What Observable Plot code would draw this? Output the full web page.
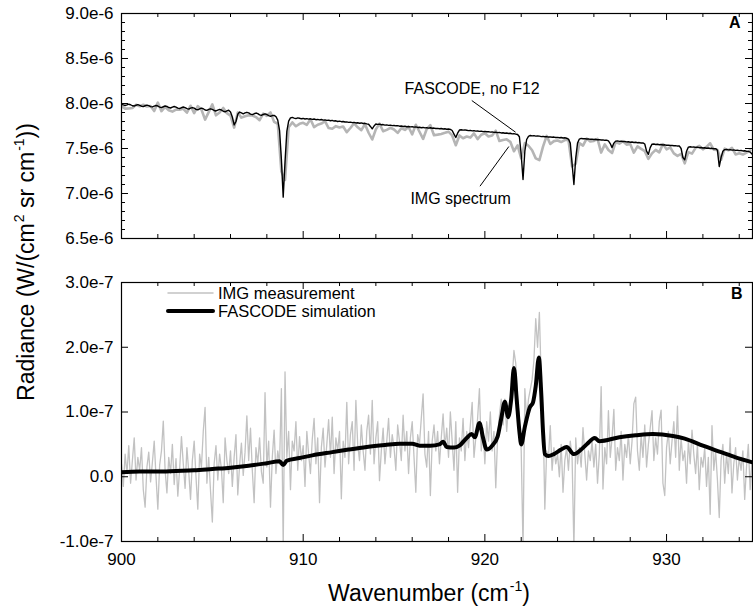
<!DOCTYPE html>
<html><head><meta charset="utf-8">
<script src="https://cdn.jsdelivr.net/npm/d3@7"></script>
<script src="https://cdn.jsdelivr.net/npm/@observablehq/plot@0.6"></script>
<style>
body{margin:0;background:#fff;font-family:"Liberation Sans",Arial,sans-serif;}
#wrap{position:relative;width:753px;height:610px;overflow:hidden;background:#fff;}
#wrap svg{position:absolute;left:0;}
.t{position:absolute;white-space:nowrap;color:#000;line-height:1;}
.title{font-size:23px;}
.sup{font-size:14px;position:relative;top:-10px;margin-left:1px;}
.leg{font-size:16.5px;}
</style></head><body><div id="wrap"></div>
<script>
// ---- data (radiance values in units of 1e-9 W/(cm2 sr cm-1)) ----
const wnStart = 900;
const fasAStep = 0.1;   // FASCODE, no F12 (panel A)
const fasA = [
7990,7985,7978,7984,7992,7986,7975,7972,7981,7987,
7980,7970,7966,7975,7982,7976,7965,7962,7971,7978,
7972,7960,7955,7964,7972,7967,7955,7950,7960,7967,
7960,7948,7944,7953,7961,7955,7943,7938,7948,7955,
7948,7935,7930,7940,7948,7942,7928,7924,7934,7941,
7935,7922,7917,7927,7935,7928,7914,7908,7918,7925,
7905,7850,7762,7800,7880,7905,7895,7885,7896,7902,
7895,7882,7876,7886,7894,7888,7874,7868,7878,7885,
7878,7865,7858,7866,7868,7855,7815,7700,7380,6960,
7350,7690,7805,7840,7845,7838,7832,7840,7836,7830,
7834,7828,7832,7826,7830,7824,7828,7820,7824,7818,
7822,7815,7818,7812,7815,7808,7812,7805,7808,7800,
7804,7798,7800,7794,7796,7790,7793,7787,7790,7784,
7786,7781,7784,7778,7780,7774,7770,7745,7718,7750,
7772,7768,7770,7764,7766,7760,7762,7757,7760,7754,
7756,7752,7754,7748,7750,7745,7747,7742,7744,7740,
7742,7737,7740,7734,7736,7731,7734,7729,7731,7726,
7730,7725,7727,7722,7724,7720,7722,7717,7719,7714,
7717,7712,7700,7660,7622,7670,7705,7708,7704,7707,
7703,7699,7701,7696,7698,7693,7695,7690,7693,7688,
7690,7686,7688,7682,7684,7679,7681,7676,7678,7673,
7675,7670,7672,7667,7669,7663,7665,7660,7655,7630,
7430,7155,7470,7600,7635,7645,7640,7643,7638,7640,
7637,7632,7635,7630,7632,7627,7629,7625,7627,7622,
7624,7620,7622,7617,7619,7614,7605,7560,7330,7100,
7390,7560,7605,7612,7608,7610,7605,7607,7602,7604,
7600,7602,7597,7599,7594,7596,7591,7593,7585,7555,
7510,7560,7582,7584,7579,7581,7576,7578,7573,7575,
7570,7572,7567,7569,7564,7566,7561,7563,7550,7470,
7435,7510,7548,7550,7545,7547,7542,7544,7539,7541,
7536,7538,7533,7535,7530,7532,7527,7529,7500,7400,
7375,7470,7515,7520,7515,7517,7512,7514,7509,7511,
7506,7508,7503,7505,7500,7502,7497,7499,7480,7300,
7400,7470,7488,7490,7485,7487,7482,7484,7479,7481,
7476,7478,7473,7475,7470,7468,7460,7440];

const imgAStep = 0.2;   // IMG spectrum (panel A)
const imgA = [
7970,7943,7944,7950,7986, 7970,7986,7967,7973,7916,
8010,7915,7962,7925,7910, 7932,7932,7941,7898,7975,
7893,7970,7933,7821,7904, 7990,7869,7900,7950,7893,
7865,7732,7900,7843,7858, 7870,7866,7849,7814,7888,
7863,7900,7796,7775,7244, 7150,7735,7790,7747,7774,
7786,7762,7825,7738,7764, 7777,7803,7727,7720,7748,
7734,7745,7681,7728,7780, 7736,7704,7770,7675,7600,
7712,7776,7691,7707,7730, 7711,7674,7725,7707,7739,
7657,7764,7686,7606,7716, 7759,7647,7654,7662,7674,
7687,7645,7537,7645,7614, 7633,7621,7668,7605,7653,
7670,7633,7644,7698,7583, 7595,7602,7574,7470,7535,
7390,7560,7530,7480,7390, 7370,7520,7640,7550,7582,
7589,7572,7594,7595,7300, 7330,7560,7532,7610,7577,
7585,7607,7455,7546,7483, 7450,7572,7554,7581,7543,
7550,7454,7524,7496,7470, 7385,7446,7485,7457,7549,
7491,7513,7445,7418,7440, 7335,7460,7443,7507,7529,
7491,7518,7558,7487,7485, 7375,7498,7480,7507,7434,
7446,7433,7455,7480];

const imgBStep = 0.1;   // IMG measurement (panel B)
const imgB = [
20,-15,35,5,48,-10,25,60,-5,30,
10,45,-20,-47,15,38,-8,22,55,0,
-50,18,40,86,10,-25,30,5,50,-12,
28,-30,12,62,20,-18,45,8,-35,25,
55,0,-50,35,15,70,107,-10,30,-22,
-70,20,48,-5,35,12,-40,60,25,5,
40,-15,30,65,-28,18,52,2,38,94,
25,75,10,-40,45,20,60,8,-10,130,
15,55,-47,30,72,5,40,20,136,-110,
162,30,70,-20,55,40,85,10,62,25,
48,-15,70,35,5,58,90,20,60,-40,
45,75,15,50,88,30,92,5,60,40,
70,-34,55,30,115,20,65,85,10,118,
50,25,80,40,10,70,95,35,118,20,
60,85,-6,40,75,20,55,90,30,65,
45,10,80,55,25,95,40,70,5,60,
85,30,-24,65,50,90,128,35,15,70,
-29,55,80,40,70,20,60,97,45,75,
30,100,55,10,85,-24,60,40,90,25,
70,45,80,115,30,60,90,136,40,75,
20,85,55,100,40,70,-17,60,95,120,
80,120,70,110,95,150,195,175,120,90,
40,-110,136,90,120,135,150,180,244,200,
254,150,100,-50,40,30,79,10,45,20,
35,0,50,-24,25,45,10,55,30,-110,
60,20,45,15,76,35,-5,40,25,55,
15,50,-10,35,139,-19,45,20,102,30,
60,104,10,45,25,70,-5,50,30,65,
20,55,113,123,40,10,65,30,80,15,
50,75,102,25,60,35,85,103,-10,-29,
45,70,20,55,85,30,109,10,60,25,
40,-10,55,20,72,35,5,50,-20,30,
15,45,-15,30,-58,79,10,40,-5,-63,
25,50,-10,35,5,60,-25,20,45,-5,
30,10,40,-35,15,50,-20,25];

// FASCODE simulation (panel B)
const fasB_wn = [900,901,902,903,904,905,906,907,908,908.7,908.9,909.1,909.8,910.5,911.6,912.5,913.5,914.5,915.3,916.0,916.4,917.0,
917.5,917.7,917.9,918.3,918.6,919.0,919.27,919.45,919.7,919.9,920.1,920.4,920.7,920.9,921.1,921.28,921.45,921.6,921.75,921.9,
922.0,922.2,922.47,922.65,922.8,922.97,923.1,923.2,923.3,923.5,923.8,924.2,924.5,924.9,925.3,925.6,926.05,926.3,927.4,928.3,
929.25,930.35,931.0,932.0,933.0,933.8,934.75];
const fasB_val = [7,8,8,9,10,12,14,17,21,24,18,25,29,33,38,42,46,49,51,51,48,48,
50,54,46,45,48,60,66,61,83,60,42,48,62,90,116,92,120,168,120,70,
50,77,107,115,140,184,130,70,35,32,35,42,46,35,42,50,60,55,61,64,
66,63,59,48,38,30,22];

// ---- axes / ticks ----
const xDomain = [900, 934.73];
const xTicksMajor = [900, 910, 920, 930];
const xTicksMinor = [902,904,906,908,912,914,916,918,922,924,926,928,932,934];
const yTicksA = [6.5e-6, 7.0e-6, 7.5e-6, 8.0e-6, 8.5e-6, 9.0e-6];
const yLabelsA = ["6.5e-6","7.0e-6","7.5e-6","8.0e-6","8.5e-6","9.0e-6"];
const yMinorA = [6.6,6.7,6.8,6.9,7.1,7.2,7.3,7.4,7.6,7.7,7.8,7.9,8.1,8.2,8.3,8.4,8.6,8.7,8.8,8.9].map(v => v * 1e-6);
const yTicksB = [-1e-7, 0, 1e-7, 2e-7, 3e-7];
const yLabelsB = ["-1.0e-7","0.0","1.0e-7","2.0e-7","3.0e-7"];

// annotations (panel A)
const annoText = ["FASCODE, no F12", "IMG spectrum"];
const annoX = [915.58, 915.9];
const annoY = [8.167e-6, 6.944e-6];
const annoX1 = [919.28, 919.73], annoY1 = [8.033e-6, 7.081e-6];
const annoX2 = [921.69, 921.32], annoY2 = [7.681e-6, 7.522e-6];

// ---- build tables ----
const series = (vals, step) => vals.map((v, i) => ({x: +(wnStart + i * step).toFixed(2), y: v * 1e-9}));
const fasAData = series(fasA, fasAStep);
const imgAData = series(imgA, imgAStep);
const imgBData = series(imgB, imgBStep);
const fasBData = fasB_wn.map((w, i) => ({x: w, y: fasB_val[i] * 1e-9}));
const annoData = annoText.map((t, i) => ({t, x: annoX[i], y: annoY[i], x1: annoX1[i], y1: annoY1[i], x2: annoX2[i], y2: annoY2[i]}));

const W = 753, ML = 121, MR = 1, FW = W - ML - MR;
const TMAJ = 7, TMIN = 4;
const font = '"Liberation Sans", Arial, sans-serif';

function tickMarks(fh, yMaj, yMin) {
  const s = {stroke: "#000", strokeWidth: 1};
  const m = [
    Plot.tickX(xTicksMajor, {x: d => d, insetTop: fh - TMAJ, ...s}),
    Plot.tickX(xTicksMajor, {x: d => d, insetBottom: fh - TMAJ, ...s}),
    Plot.tickX(xTicksMinor, {x: d => d, insetTop: fh - TMIN, ...s}),
    Plot.tickX(xTicksMinor, {x: d => d, insetBottom: fh - TMIN, ...s}),
    Plot.tickY(yMaj, {y: d => d, insetRight: FW - TMAJ, ...s}),
    Plot.tickY(yMaj, {y: d => d, insetLeft: FW - TMAJ, ...s})
  ];
  if (yMin) {
    m.push(Plot.tickY(yMin, {y: d => d, insetRight: FW - TMIN, ...s}));
    m.push(Plot.tickY(yMin, {y: d => d, insetLeft: FW - TMIN, ...s}));
  }
  return m;
}

const wrap = document.getElementById("wrap");

// Panel A
const hA = 245, mtA = 13, mbA = 7;
const pA = Plot.plot({
  width: W, height: hA, marginLeft: ML, marginRight: MR, marginTop: mtA, marginBottom: mbA,
  style: {fontFamily: font, fontSize: "17px", color: "#000", background: "transparent", overflow: "visible"},
  x: {domain: xDomain, axis: null},
  y: {domain: [6.5e-6, 9.0e-6], axis: null},
  marks: [
    Plot.line(imgAData, {x: "x", y: "y", stroke: "#b5b5b5", strokeWidth: 2.6, clip: true}),
    Plot.line(fasAData, {x: "x", y: "y", stroke: "#000", strokeWidth: 1.4, clip: true}),
    Plot.link(annoData, {x1: "x1", y1: "y1", x2: "x2", y2: "y2", stroke: "#000", strokeWidth: 1}),
    Plot.text(annoData, {x: "x", y: "y", text: "t", textAnchor: "start", fontSize: 16, fill: "#000"}),
    Plot.text(["A"], {frameAnchor: "top-right", dx: -12, dy: 3, fontSize: 16, fontWeight: "bold", fill: "#000"}),
    Plot.frame({stroke: "#000", strokeWidth: 1.2}),
    ...tickMarks(hA - mtA - mbA, yTicksA, yMinorA),
    Plot.axisY(yTicksA, {tickSize: 0, tickPadding: 8, label: null, fontSize: 17,
      tickFormat: d => yLabelsA[yTicksA.indexOf(d)]})
  ]
});
pA.style.top = "0px";
wrap.appendChild(pA);

// Panel B
const topB = 245, hB = 365, mtB = 37, mbB = 69;
const pB = Plot.plot({
  width: W, height: hB, marginLeft: ML, marginRight: MR, marginTop: mtB, marginBottom: mbB,
  style: {fontFamily: font, fontSize: "17px", color: "#000", background: "transparent", overflow: "visible"},
  x: {domain: xDomain, axis: null},
  y: {domain: [-1e-7, 3e-7], axis: null},
  marks: [
    Plot.line(imgBData, {x: "x", y: "y", stroke: "#c2c2c2", strokeWidth: 1.3, clip: true}),
    Plot.line(fasBData, {x: "x", y: "y", stroke: "#000", strokeWidth: 4, curve: "monotone-x", strokeLinejoin: "round", strokeLinecap: "round", clip: true}),
    Plot.text(["B"], {frameAnchor: "top-right", dx: -10, dy: 5, fontSize: 16, fontWeight: "bold", fill: "#000"}),
    Plot.frame({stroke: "#000", strokeWidth: 1.2}),
    ...tickMarks(hB - mtB - mbB, yTicksB, null),
    Plot.axisX(xTicksMajor, {tickSize: 0, tickPadding: 11, label: null, fontSize: 17, tickFormat: d => String(d)}),
    Plot.axisY(yTicksB, {tickSize: 0, tickPadding: 8, label: null, fontSize: 17,
      tickFormat: d => yLabelsB[yTicksB.indexOf(d)]})
  ]
});
pB.style.top = topB + "px";
wrap.appendChild(pB);

// Legend (panel B)
const legendNames = ["IMG measurement", "FASCODE simulation"];
const legendColors = ["#c2c2c2", "#000"];
const legendWidths = [1.5, 4];
const legendY = [293, 311];
legendNames.forEach((name, i) => {
  const sw = document.createElementNS("http://www.w3.org/2000/svg", "svg");
  sw.setAttribute("width", 50); sw.setAttribute("height", 10);
  sw.style.left = "166px"; sw.style.top = (legendY[i] - 5) + "px";
  sw.innerHTML = `<line x1="2" x2="47" y1="5" y2="5" stroke="${legendColors[i]}" stroke-width="${legendWidths[i]}" stroke-linecap="round"/>`;
  wrap.appendChild(sw);
  const d = document.createElement("div");
  d.className = "t leg"; d.textContent = name;
  d.style.left = "218px"; d.style.top = legendY[i] + "px"; d.style.transform = "translateY(-50%)";
  wrap.appendChild(d);
});

// Axis titles
const xt = document.createElement("div");
xt.className = "t title";
xt.innerHTML = 'Wavenumber (cm<span class="sup">-1</span>)';
xt.style.left = "429px"; xt.style.top = "593px"; xt.style.transform = "translate(-50%,-50%)";
wrap.appendChild(xt);
const yt = document.createElement("div");
yt.className = "t title";
yt.innerHTML = 'Radiance (W/(cm<span class="sup">2</span> sr cm<span class="sup">-1</span>))';
yt.style.left = "26px"; yt.style.top = "262px"; yt.style.transform = "translate(-50%,-50%) rotate(-90deg)";
wrap.appendChild(yt);
</script></body></html>
